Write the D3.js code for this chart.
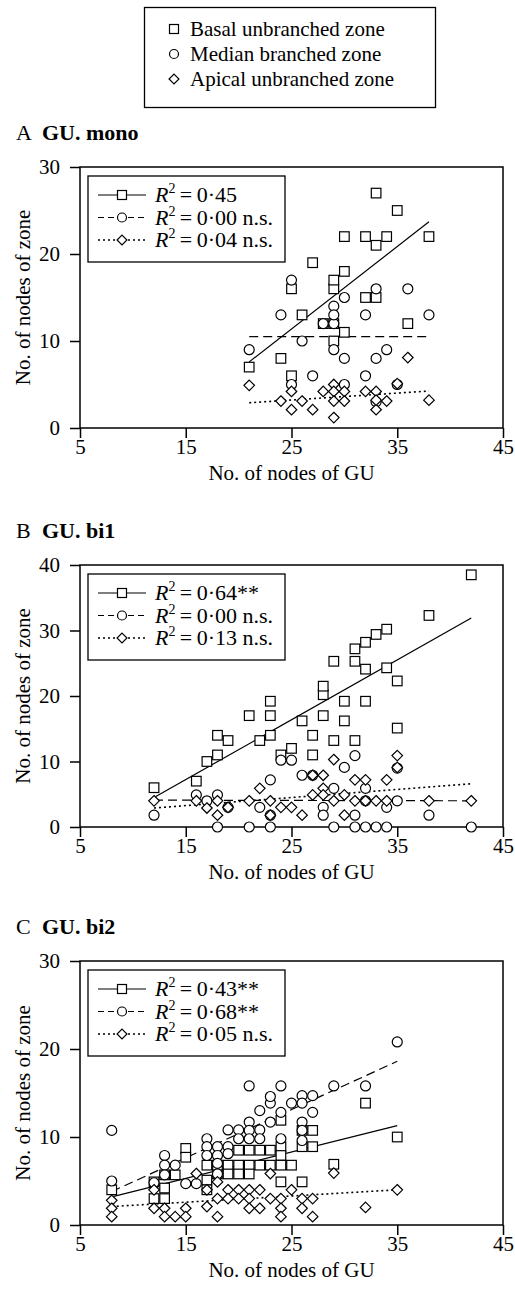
<!DOCTYPE html>
<html><head><meta charset="utf-8">
<script src="https://cdn.jsdelivr.net/npm/d3@7"></script>
<style>body{margin:0;background:#fff}svg{display:block}</style>
</head><body>
<script>
// ---------- DATA ----------
const xTicks = [5, 15, 25, 35, 45];
const seriesNames = ["Basal unbranched zone", "Median branched zone", "Apical unbranched zone"];
const panelLetters = ["A", "B", "C"];
const panelTitles = ["GU. mono", "GU. bi1", "GU. bi2"];
const yTicksA = [0, 10, 20, 30];
const yTicksB = [0, 10, 20, 30, 40];
const yTicksC = [0, 10, 20, 30];
const r2A = ["0·45", "0·00 n.s.", "0·04 n.s."];
const r2B = ["0·64**", "0·00 n.s.", "0·13 n.s."];
const r2C = ["0·43**", "0·68**", "0·05 n.s."];

const aBasal = [[21,7],[24,8],[25,16],[25,6],[26,13],[27,19],[28,12],[29,12],[29,10],[29,16],[29,17],[30,18],[30,11],[30,22],[32,22],[32,15],[33,15],[33,21],[33,27],[34,22],[35,25],[36,12],[38,22]];
const aMedian = [[21,9],[24,13],[25,17],[25,5],[26,10],[27,6],[28,12],[29,12],[29,14],[29,13],[29,9],[30,15],[30,8],[30,5],[32,13],[32,6],[33,16],[33,8],[33,3],[34,9],[35,5],[36,16],[38,13]];
const aApical = [[21,4.9],[24,3.1],[25,4.2],[25,2.1],[26,3.1],[27,2.1],[28,4.2],[29,5],[29,4.2],[29,3.1],[29,1.2],[30,4.2],[30,3.1],[32,4.2],[33,4.2],[33,2.1],[33,3.2],[34,3.1],[35,5.1],[36,8.1],[38,3.2]];
const aFits = [[21,7.6,38,23.7],[21,10.5,38,10.5],[21,2.9,38,4.25]];

const bBasal = [[12,6],[16,7],[17,10],[18,11],[18,14],[19,13.2],[21,17],[22,13.2],[23,14],[23,17],[23,19.2],[24,11],[25,12],[26,16.2],[27,14],[27,11],[28,17],[28,20.2],[28,21.5],[29,25.3],[29,13.2],[30,19.2],[30,16.2],[31,27.2],[31,25.3],[31,13.2],[32,28.2],[32,24.1],[32,19.2],[33,29.4],[34,30.2],[34,24.3],[35,22.3],[35,15.1],[38,32.3],[42,38.5]];
const bMedian = [[12,1.8],[16,4.9],[17,4],[18,4.9],[18,0],[19,3],[21,0],[22,3],[23,7.2],[23,1.8],[23,0],[24,10.2],[25,10.2],[26,7.9],[27,7.9],[28,3],[28,1.8],[29,5.9],[29,0],[30,9.1],[31,10.9],[31,1.8],[31,0],[32,5.9],[32,4],[32,0],[33,0],[34,0],[34,3],[35,4],[35,9],[38,1.8],[42,0]];
const bApical = [[12,4],[16,4],[17,2.9],[18,4],[18,1.8],[19,3],[21,4],[22,5.9],[23,4],[23,1.8],[24,3],[25,3],[26,1.8],[27,7.9],[28,7.9],[27,4.9],[28,5.9],[28,4.9],[29,4],[29,10.3],[30,4.9],[30,1.8],[31,7.2],[31,4],[32,7.2],[32,4],[33,4],[34,7.2],[34,4],[35,10.9],[35,9.1],[38,4],[42,4]];
const bFits = [[12,4.5,42,31.9],[12,4.1,42,4.0],[12,2.9,42,6.6]];

const cBasal = [[8,4],[12,4.9],[12,3],[13,5.7],[13,4.2],[13,3],[14,5.7],[15,8.7],[15,7.7],[17,6.8],[17,5.1],[17,4],[18,5.8],[18,6.8],[19,6.8],[19,5.8],[20,8.5],[20,6.8],[20,5.8],[21,8.5],[21,6.8],[21,5.8],[22,8.5],[22,6.8],[23,8.5],[23,6.8],[24,11.9],[24,8.9],[24,7.9],[24,6.8],[24,4.9],[25,6.8],[26,10.75],[26,8.9],[26,4.9],[27,10.75],[27,8.9],[29,6.9],[32,13.85],[35,10]];
const cMedian = [[8,10.75],[8,5],[12,4.8],[13,7.9],[13,6.8],[13,5.7],[14,6.8],[15,4.7],[16,4.7],[17,9.8],[17,8.9],[17,7.9],[18,8.9],[18,7.9],[18,7],[18,5.8],[19,10.8],[19,8.9],[19,8.1],[20,10.8],[20,9.8],[21,11.7],[21,10.75],[21,9.8],[22,13],[22,10.8],[22,9.8],[23,13.85],[23,11.7],[24,12.8],[24,9.8],[25,13.85],[26,14.7],[26,13.85],[26,11.7],[26,10.75],[26,9.6],[27,14.7],[27,12.8],[21,15.8],[24,15.8],[23,14.6],[29,15.8],[32,15.8],[35,20.8]];
const cApical = [[8,2.8],[8,1.9],[8,0.95],[12,4],[12,1.9],[13,1.9],[13,0.95],[14,0.95],[15,1.9],[15,0.95],[16,5.85],[17,4],[17,2.1],[18,4.9],[18,3],[18,0.95],[19,4],[19,3],[20,4],[20,3],[21,4],[21,3],[21,1.9],[22,4],[22,1.9],[23,5.85],[23,3],[24,3],[24,1.9],[24,0.95],[25,4],[26,3],[26,1.9],[27,3],[27,0.95],[29,5.9],[32,2],[35,4]];
const cFits = [[8,3.2,35,11.3],[8,3.8,35,18.6],[8,2.1,35,4.0]];

// ---------- LAYOUT ----------
const W = 515, H = 1289;
const FONT = "'Liberation Serif','Times New Roman',serif";
const svg = d3.select("body").append("svg").attr("width", W).attr("height", H)
  .style("font-family", FONT);

const markerFns = [
  (g, s) => g.append("rect").attr("x", -s).attr("y", -s).attr("width", 2*s).attr("height", 2*s),
  (g, s) => g.append("circle").attr("r", s),
  (g, s) => g.append("path").attr("d", `M0,${-s*1.1}L${s*1.1},0L0,${s*1.1}L${-s*1.1},0Z`)
];
const dashes = [null, "9,5", "2,3"];

function styleMarker(sel) {
  sel.attr("fill", "#fff").attr("stroke", "#000").attr("stroke-width", 1.2);
}

// top legend
const lg = svg.append("g");
lg.append("rect").attr("x", 144.5).attr("y", 7.5).attr("width", 291).attr("height", 100)
  .attr("fill", "none").attr("stroke", "#000").attr("stroke-width", 1.3);
seriesNames.forEach((n, i) => {
  const cy = 29 + i * 25;
  const g = lg.append("g").attr("transform", `translate(174,${cy})`);
  styleMarker(markerFns[i](g, 4.5));
  lg.append("text").attr("x", 190).attr("y", cy + 7).attr("font-size", 21).text(n);
});

const panels = [
  {top: 167, bottom: 428, yMax: 30, yTicks: yTicksA, data: [aBasal, aMedian, aApical], fits: aFits, r2: r2A},
  {top: 565, bottom: 827, yMax: 40, yTicks: yTicksB, data: [bBasal, bMedian, bApical], fits: bFits, r2: r2B},
  {top: 961, bottom: 1225, yMax: 30, yTicks: yTicksC, data: [cBasal, cMedian, cApical], fits: cFits, r2: r2C}
];
const left = 80, right = 503;

panels.forEach((p, pi) => {
  const x = d3.scaleLinear().domain([5, 45]).range([left, right]);
  const y = d3.scaleLinear().domain([0, p.yMax]).range([p.bottom, p.top]);
  const g = svg.append("g");

  // title
  const t = g.append("text").attr("x", 16).attr("y", p.top - 27).attr("font-size", 22);
  t.append("tspan").text(panelLetters[pi]);
  t.append("tspan").attr("x", 42).attr("font-weight", "bold").text(panelTitles[pi]);

  // frame
  g.append("rect").attr("x", left).attr("y", p.top).attr("width", right - left).attr("height", p.bottom - p.top)
    .attr("fill", "none").attr("stroke", "#000").attr("stroke-width", 1.5);

  const xAxis = g.append("g").attr("transform", `translate(0,${p.bottom})`)
    .call(d3.axisBottom(x).tickValues(xTicks).tickSize(10).tickPadding(1).tickFormat(d3.format("d")));
  const yAxis = g.append("g").attr("transform", `translate(${left},0)`)
    .call(d3.axisLeft(y).tickValues(p.yTicks).tickSize(10).tickPadding(10).tickFormat(d3.format("d")));
  [xAxis, yAxis].forEach(a => {
    a.select(".domain").remove();
    a.selectAll("line").attr("stroke", "#000").attr("stroke-width", 1.5);
    a.selectAll("text").attr("font-size", 21).attr("font-family", FONT).attr("fill", "#000");
  });

  // axis titles
  g.append("text").attr("x", (left + right) / 2).attr("y", p.bottom + 52).attr("text-anchor", "middle")
    .attr("font-size", 21).text("No. of nodes of GU");
  g.append("text").attr("transform", `translate(30,${(p.top + p.bottom) / 2}) rotate(-90)`)
    .attr("text-anchor", "middle").attr("font-size", 21).text("No. of nodes of zone");

  // fit lines
  p.fits.forEach((f, i) => {
    g.append("line").attr("x1", x(f[0])).attr("y1", y(f[1])).attr("x2", x(f[2])).attr("y2", y(f[3]))
      .attr("stroke", "#000").attr("stroke-width", i === 2 ? 1.6 : 1.2)
      .attr("stroke-dasharray", dashes[i]);
  });

  // points
  p.data.forEach((arr, si) => {
    arr.forEach(d => {
      const mg = g.append("g").attr("transform", `translate(${x(d[0])},${y(d[1])})`);
      styleMarker(markerFns[si](mg, si === 1 ? 5 : 4.8));
    });
  });

  // inner legend
  const lx = 88, ly = p.top + 9;
  g.append("rect").attr("x", lx).attr("y", ly).attr("width", 197).attr("height", 86)
    .attr("fill", "#fff").attr("stroke", "#000").attr("stroke-width", 1.3);
  p.r2.forEach((r, i) => {
    const cy = ly + 19 + i * 22.5;
    g.append("line").attr("x1", 98).attr("x2", 146).attr("y1", cy).attr("y2", cy)
      .attr("stroke", "#000").attr("stroke-width", i === 2 ? 1.6 : 1.2).attr("stroke-dasharray", dashes[i] ? (i===1? "6,4" : "2,3") : null);
    const mg = g.append("g").attr("transform", `translate(122,${cy})`);
    styleMarker(markerFns[i](mg, 4.5));
    const tx = g.append("text").attr("x", 155).attr("y", cy + 7).attr("font-size", 22);
    tx.append("tspan").attr("font-style", "italic").text("R");
    tx.append("tspan").attr("font-size", 14).attr("dy", -9).text("2");
    tx.append("tspan").attr("dy", 9).text("\u2009=\u2009" + r);
  });
});
</script>
</body></html>
